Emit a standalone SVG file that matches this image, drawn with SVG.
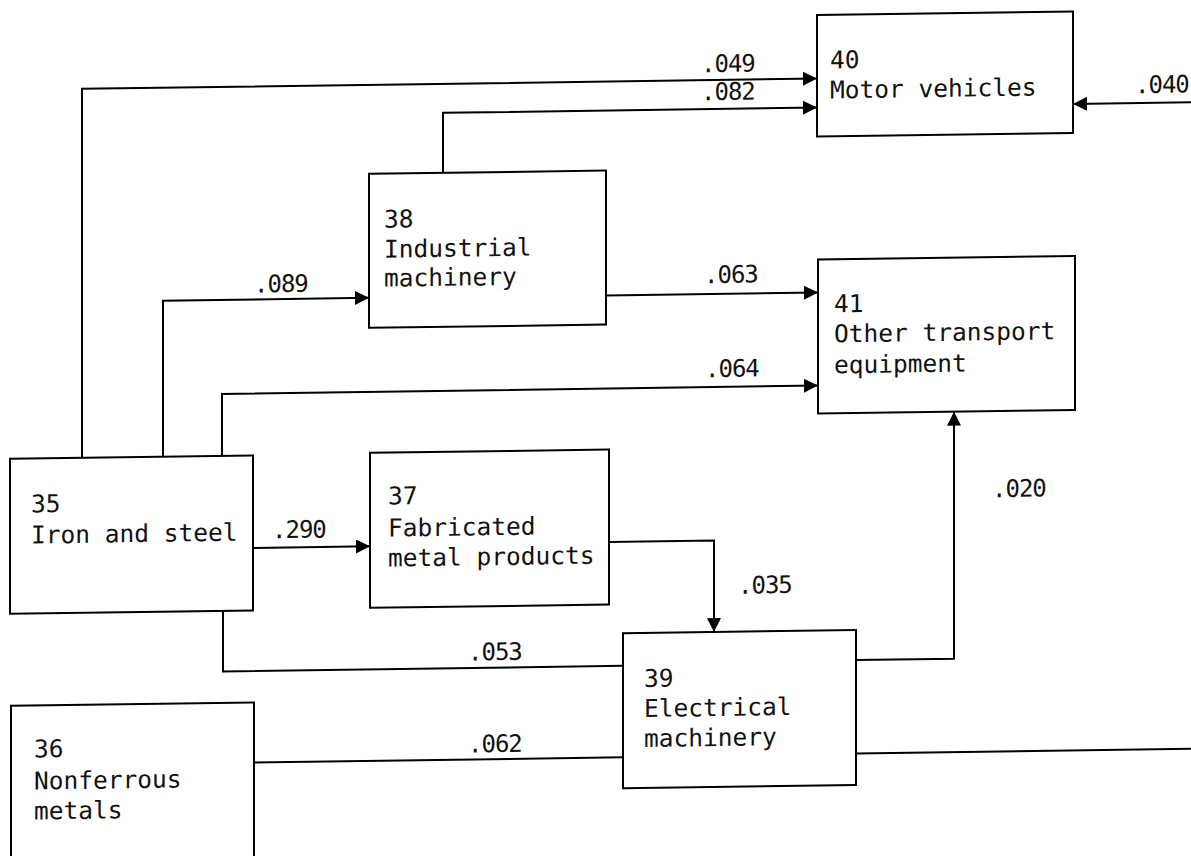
<svg xmlns="http://www.w3.org/2000/svg" width="1191" height="856" viewBox="0 0 1191 856">
<style>
.box{fill:none;stroke:#000;stroke-width:2}
.conn{fill:none;stroke:#000;stroke-width:2}
.t{font-family:"DejaVu Sans Mono","Liberation Mono",monospace;font-size:24.5px;fill:#111}
.lbl{font-family:"DejaVu Sans Mono","Liberation Mono",monospace;font-size:24px;letter-spacing:-1px;fill:#111}
</style>
<defs>
<marker id="arr" markerUnits="userSpaceOnUse" markerWidth="16" markerHeight="16" refX="14" refY="7" orient="auto">
<path d="M0,0 L14,7 L0,14 z" fill="#000"/>
</marker>
</defs>
<rect width="1191" height="856" fill="#fff"/>
<g transform="skewY(-0.8)">
<g id="connectors">
<path class="conn" d="M82,459 V90 H817" marker-end="url(#arr)"/>
<path class="conn" d="M443,179 V119 H817" marker-end="url(#arr)"/>
<path class="conn" d="M163,459 V303 H369" marker-end="url(#arr)"/>
<path class="conn" d="M606,304 H818" marker-end="url(#arr)"/>
<path class="conn" d="M222,459 V397 H818" marker-end="url(#arr)"/>
<path class="conn" d="M253,551.5 H370" marker-end="url(#arr)"/>
<path class="conn" d="M609,550.5 H714 V642" marker-end="url(#arr)"/>
<path class="conn" d="M856,672 H954 V425" marker-end="url(#arr)"/>
<path class="conn" d="M1191,119 H1073" marker-end="url(#arr)"/>
<path class="conn" d="M223,614 V674.5 H623"/>
<path class="conn" d="M254,766 H623"/>
<path class="conn" d="M856,765.5 H1191"/>
<text class="lbl" x="701" y="82">.049</text>
<text class="lbl" x="701" y="110">.082</text>
<text class="lbl" x="1135" y="109">.040</text>
<text class="lbl" x="254" y="296">.089</text>
<text class="lbl" x="704" y="293">.063</text>
<text class="lbl" x="705" y="387">.064</text>
<text class="lbl" x="272" y="542">.290</text>
<text class="lbl" x="738" y="604">.035</text>
<text class="lbl" x="992" y="511">.020</text>
<text class="lbl" x="468" y="667">.053</text>
<text class="lbl" x="468" y="759">.062</text>
</g>
<g id="n40">
<rect class="box" x="817" y="26.5" width="256" height="121.5"/>
<text class="t" x="830" y="80">40</text>
<text class="t" x="830" y="110">Motor vehicles</text>
</g>
<g id="n41">
<rect class="box" x="818" y="271" width="257" height="154"/>
<text class="t" x="834" y="324">41</text>
<text class="t" x="834" y="354">Other transport</text>
<text class="t" x="834" y="385">equipment</text>
</g>
<g id="n38">
<rect class="box" x="369" y="179" width="237" height="154"/>
<text class="t" x="384" y="233">38</text>
<text class="t" x="384" y="263">Industrial</text>
<text class="t" x="384" y="292">machinery</text>
</g>
<g id="n35">
<rect class="box" x="10" y="459" width="243" height="155"/>
<text class="t" x="31" y="513">35</text>
<text class="t" x="31" y="544">Iron and steel</text>
</g>
<g id="n37">
<rect class="box" x="370" y="458" width="239" height="155"/>
<text class="t" x="388" y="510">37</text>
<text class="t" x="388" y="542">Fabricated</text>
<text class="t" x="388" y="572">metal products</text>
</g>
<g id="n39">
<rect class="box" x="623" y="642" width="233" height="155"/>
<text class="t" x="644" y="696">39</text>
<text class="t" x="644" y="726">Electrical</text>
<text class="t" x="644" y="756">machinery</text>
</g>
<g id="n36">
<rect class="box" x="11" y="706" width="243" height="200"/>
<text class="t" x="34" y="758">36</text>
<text class="t" x="34" y="790">Nonferrous</text>
<text class="t" x="34" y="820">metals</text>
</g>
</g>
</svg>
